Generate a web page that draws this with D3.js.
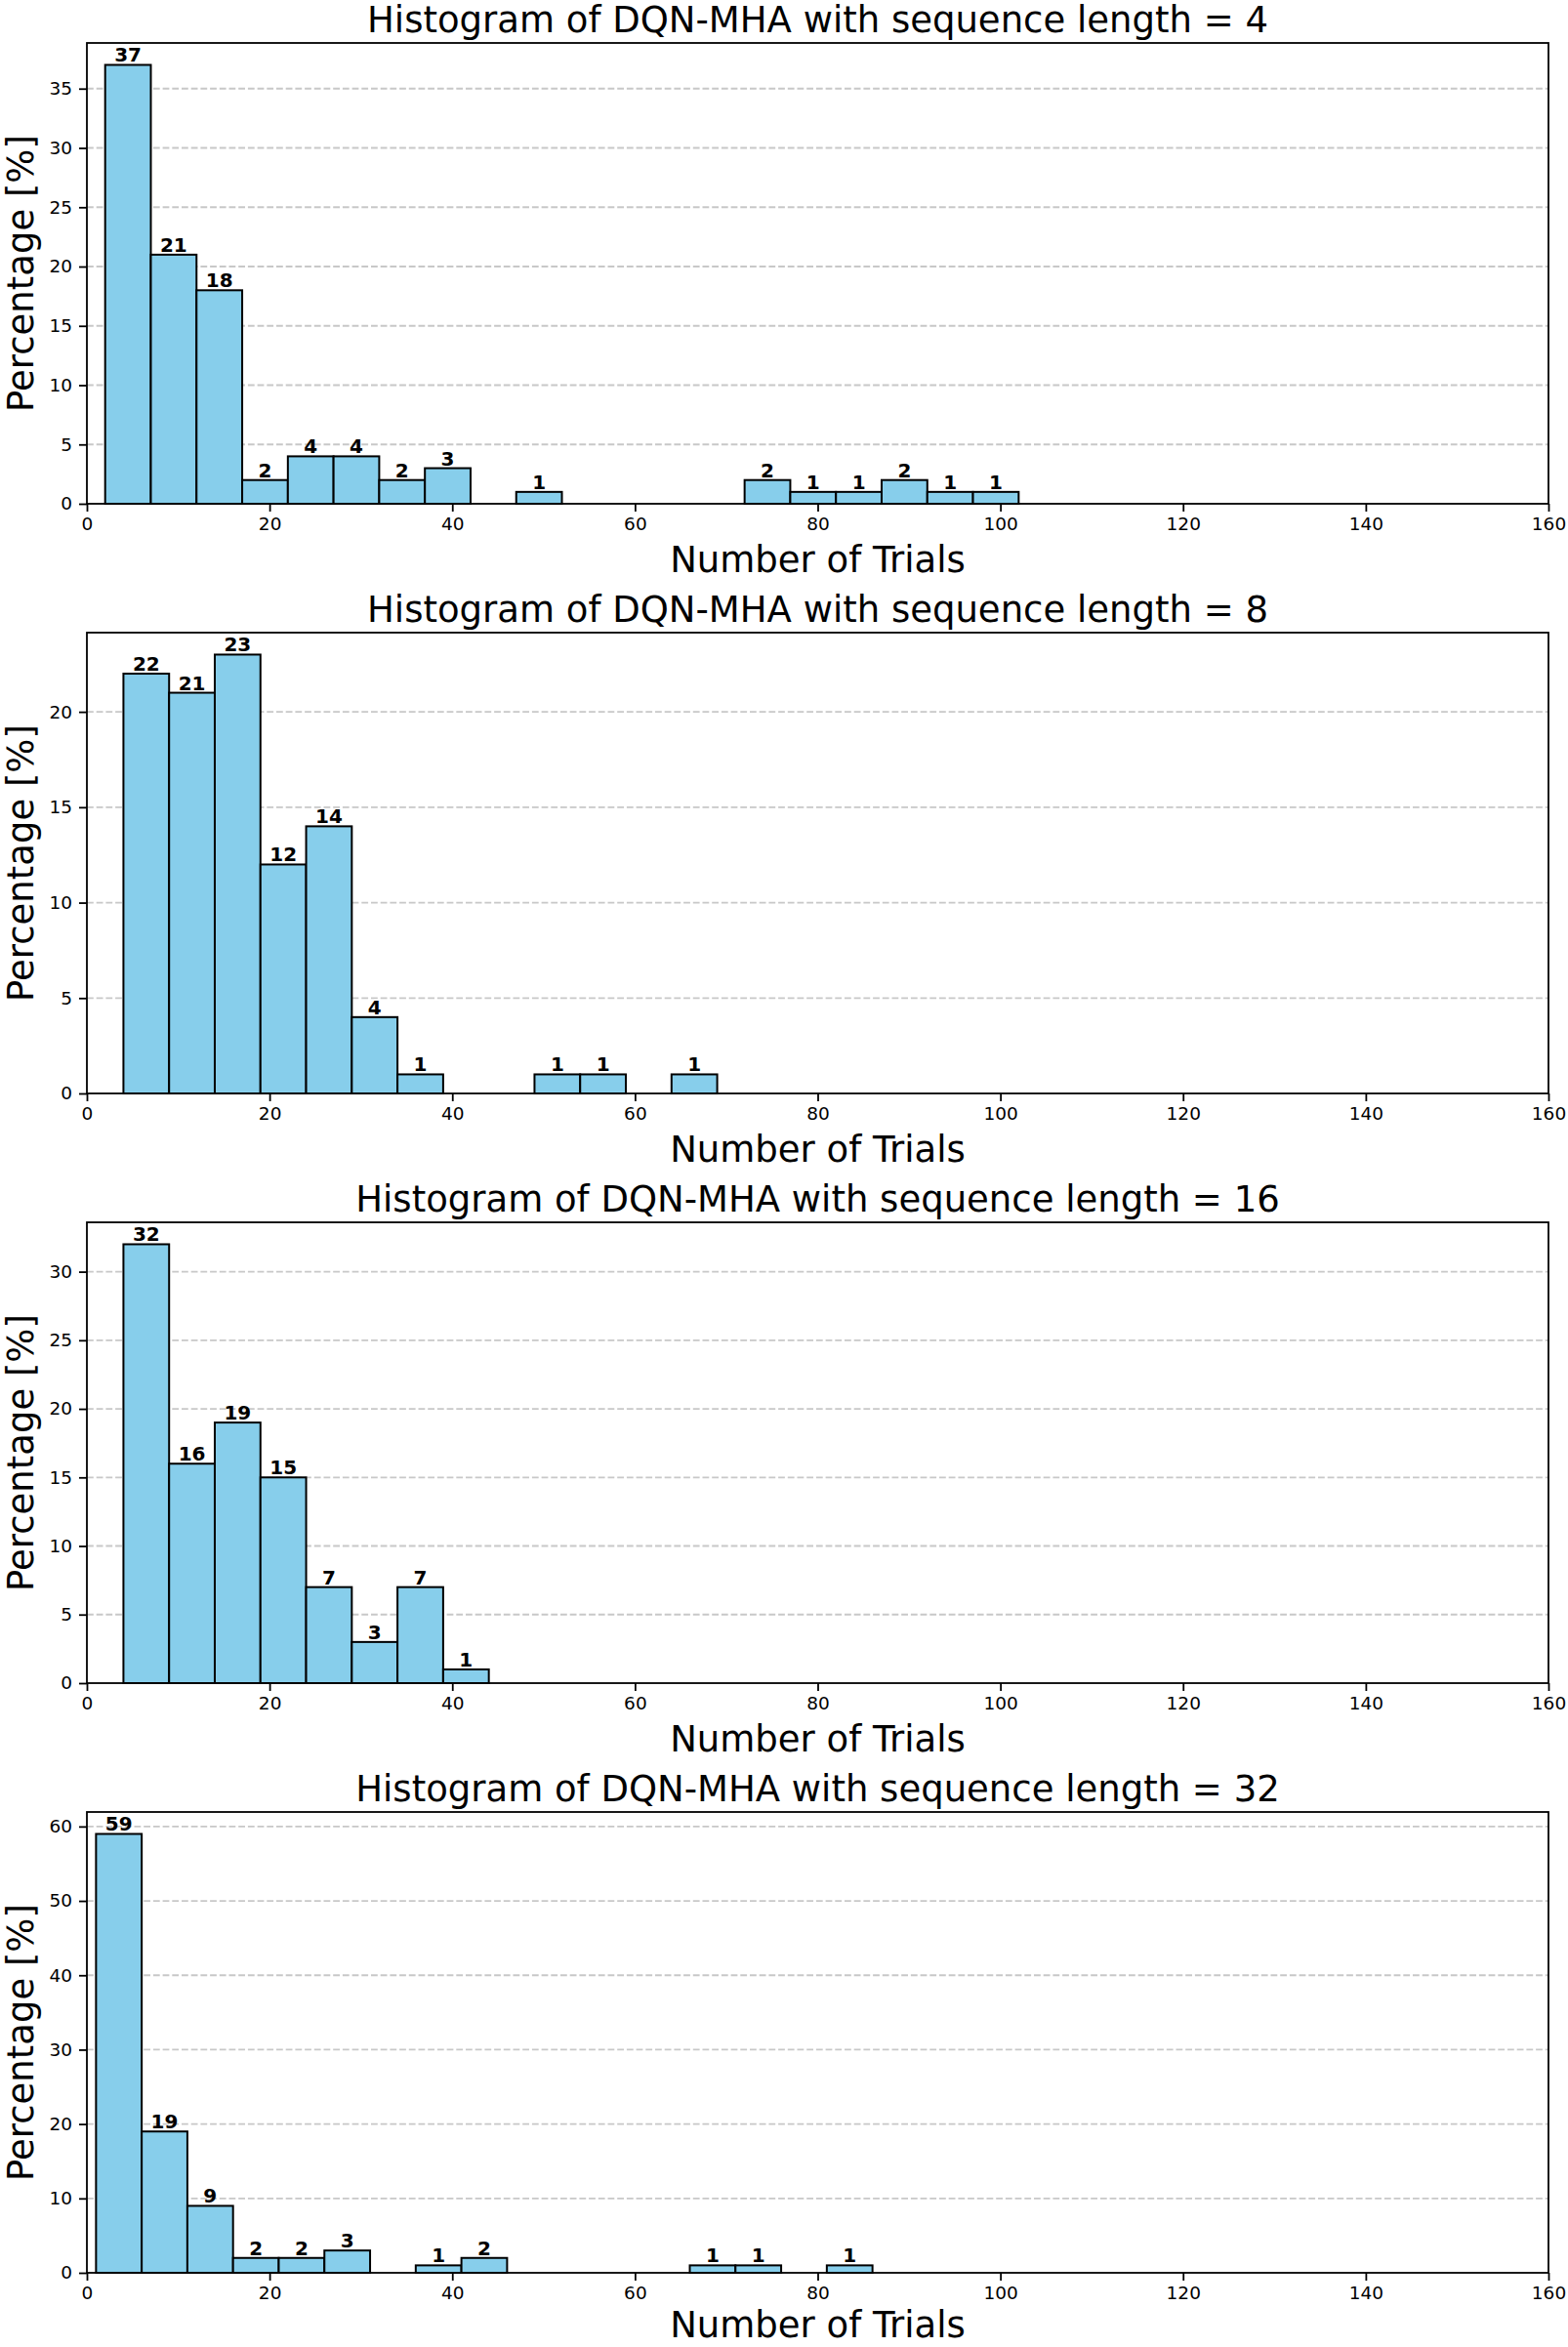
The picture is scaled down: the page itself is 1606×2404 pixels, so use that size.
<!DOCTYPE html>
<html>
<head>
<meta charset="utf-8">
<script src="https://cdn.jsdelivr.net/npm/d3@7"></script>
<style>
  html, body { margin: 0; padding: 0; background: #fff; }
  svg { display: block; font-family: "DejaVu Sans", sans-serif; }
</style>
</head>
<body>
<svg id="chart" width="1606" height="2404"></svg>
<script>
// sequence lengths, one panel each
var seqLengths = [4, 8, 16, 32];

// first bin edge of each histogram, all bins are 5 trials wide
var binStarts = [2, 4, 4, 1];
var binWidth = 5;

// percentages per bin
var counts4  = [37, 21, 18, 2, 4, 4, 2, 3, 0, 1, 0, 0, 0, 0, 2, 1, 1, 2, 1, 1];
var counts8  = [22, 21, 23, 12, 14, 4, 1, 0, 0, 1, 1, 0, 1];
var counts16 = [32, 16, 19, 15, 7, 3, 7, 1];
var counts32 = [59, 19, 9, 2, 2, 3, 0, 1, 2, 0, 0, 0, 0, 1, 1, 0, 1];

var yTicks4  = [0, 5, 10, 15, 20, 25, 30, 35];
var yTicks8  = [0, 5, 10, 15, 20];
var yTicks16 = [0, 5, 10, 15, 20, 25, 30];
var yTicks32 = [0, 10, 20, 30, 40, 50, 60];

var xTicks = [0, 20, 40, 60, 80, 100, 120, 140, 160];

var allCounts = [counts4, counts8, counts16, counts32];
var allYTicks = [yTicks4, yTicks8, yTicks16, yTicks32];

var svg = d3.select("#chart");
var H = 2404;
var left = 89, right = 1586;
var panelTop = 44, panelH = 472, panelStep = 604;

var x = d3.scaleLinear().domain([0, 160]).range([left, right]);

seqLengths.forEach(function(len, i){
    var counts = allCounts[i];
    var top = panelTop + i*panelStep;
    var bottom = top + panelH;
    var yMax = d3.max(counts)*1.05;
    var y = d3.scaleLinear().domain([0, yMax]).range([bottom, top]);

    var bins = counts.map(function(c, j){
        return {x0: binStarts[i] + j*binWidth, x1: binStarts[i] + (j+1)*binWidth, v: c};
    });

    var g = svg.append("g");

    // grid
    g.append("g").selectAll("line")
        .data(allYTicks[i].filter(function(t){ return t > 0; }))
        .join("line")
        .attr("x1", left).attr("x2", right)
        .attr("y1", function(d){ return y(d); })
        .attr("y2", function(d){ return y(d); })
        .attr("stroke", "#c8c8c8")
        .attr("stroke-width", 1.8)
        .attr("stroke-dasharray", "6.8,2.9");

    // bars
    g.append("g").selectAll("rect")
        .data(bins.filter(function(b){ return b.v > 0; }))
        .join("rect")
        .attr("x", function(b){ return x(b.x0); })
        .attr("width", function(b){ return x(b.x1) - x(b.x0); })
        .attr("y", function(b){ return y(b.v); })
        .attr("height", function(b){ return y(0) - y(b.v); })
        .attr("fill", "#87ceeb")
        .attr("stroke", "#000")
        .attr("stroke-width", 2);

    // labels over bars
    g.append("g").selectAll("text")
        .data(bins.filter(function(b){ return b.v > 0; }))
        .join("text")
        .attr("x", function(b){ return x((b.x0 + b.x1)/2); })
        .attr("y", function(b){ return y(b.v) - 3; })
        .attr("text-anchor", "middle")
        .attr("font-size", 20)
        .attr("font-weight", "bold")
        .text(function(b){ return b.v; });

    // axes
    var xAxis = g.append("g")
        .attr("transform", "translate(0," + bottom + ")")
        .call(d3.axisBottom(x).tickValues(xTicks).tickSize(8).tickPadding(6).tickSizeOuter(0));
    var yAxis = g.append("g")
        .attr("transform", "translate(" + left + ",0)")
        .call(d3.axisLeft(y).tickValues(allYTicks[i]).tickSize(8).tickPadding(7).tickSizeOuter(0));
    [xAxis, yAxis].forEach(function(a){
        a.select(".domain").remove();
        a.selectAll(".tick line").attr("stroke", "#000").attr("stroke-width", 1.8);
        a.selectAll(".tick text").attr("font-size", 18.5).attr("fill", "#000")
            .attr("font-family", "DejaVu Sans");
    });

    // frame
    g.append("rect")
        .attr("x", left).attr("y", top)
        .attr("width", right - left).attr("height", panelH)
        .attr("fill", "none")
        .attr("stroke", "#000")
        .attr("stroke-width", 1.8);

    // title and axis labels
    g.append("text")
        .attr("x", (left + right)/2).attr("y", top - 11)
        .attr("text-anchor", "middle")
        .attr("font-size", 37)
        .text("Histogram of DQN-MHA with sequence length = " + len);

    g.append("text")
        .attr("x", (left + right)/2).attr("y", Math.min(bottom + 70, H - 10))
        .attr("text-anchor", "middle")
        .attr("font-size", 37)
        .text("Number of Trials");

    g.append("text")
        .attr("transform", "translate(34," + (top + bottom)/2 + ") rotate(-90)")
        .attr("text-anchor", "middle")
        .attr("font-size", 37)
        .text("Percentage [%]");
});
</script>
</body>
</html>
